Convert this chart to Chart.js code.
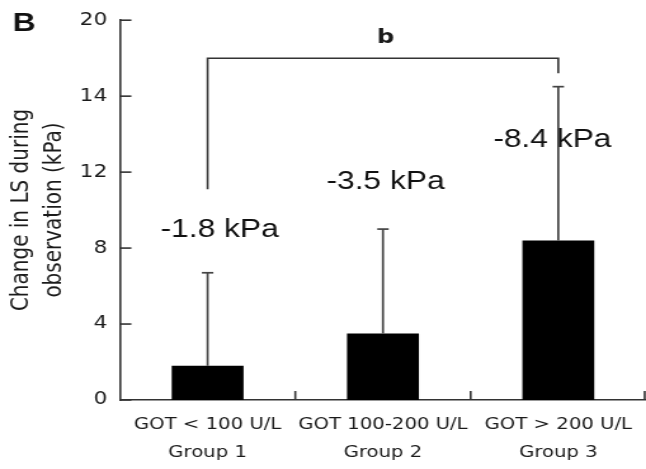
<!DOCTYPE html>
<html>
<head>
<meta charset="utf-8">
<script src="https://cdn.jsdelivr.net/npm/chart.js@4.4.1/dist/chart.umd.min.js"></script>
<style>
  html, body { margin: 0; padding: 0; background: #fff; overflow: hidden; }
  /* the figure is drawn narrow and widened, like the printed panel */
  #wrap { width: 509px; height: 469px; transform: scaleX(1.2692); transform-origin: 0 0; }
</style>
</head>
<body>
<div id="wrap"><canvas id="chart" width="509" height="469"></canvas></div>
<script>
const groups = [
    ['GOT < 100 U/L', 'Group 1'],
    ['GOT 100-200 U/L', 'Group 2'],
    ['GOT > 200 U/L', 'Group 3']
];
const lsChange = [1.8, 3.5, 8.4];     // mean decrease of LS, kPa
const sdUpper = [6.7, 9.0, 16.5];     // top of the SD whisker
const yTickText = ['0', '4', '8', '12', '14', '20'];
const yTitle = ['Change in LS during', 'observation (kPa)'];
const sigMark = 'b';

const INK = '#1a1a1a';

function line(ctx, x1, y1, x2, y2) {
    ctx.beginPath();
    ctx.moveTo(x1, y1);
    ctx.lineTo(x2, y2);
    ctx.stroke();
}

// tick marks, whiskers, bracket and the text around the bars
const extras = {
    id: 'extras',
    afterDraw(chart) {
        const { ctx, chartArea: area, scales: { x, y } } = chart;
        const bars = chart.getDatasetMeta(0).data;
        ctx.save();

        // inward tick marks
        ctx.strokeStyle = '#333';
        ctx.lineWidth = 1.6;
        y.ticks.forEach(t => {
            const py = y.getPixelForValue(t.value);
            line(ctx, area.left, py, area.left + 9, py);
        });
        for (let i = 1; i < bars.length; i++) {
            const px = (bars[i - 1].x + bars[i].x) / 2;
            line(ctx, px, area.bottom, px, area.bottom - 9);
        }
        line(ctx, area.right - 1, area.bottom, area.right - 1, area.bottom - 9);

        // SD whiskers
        ctx.strokeStyle = '#444';
        ctx.lineWidth = 1.7;
        bars.forEach((b, i) => {
            const top = y.getPixelForValue(sdUpper[i]);
            line(ctx, b.x, b.y, b.x, top);
            line(ctx, b.x - 4.5, top, b.x + 4.5, top);
        });

        // significance bracket group 1 vs group 3
        const yb = y.getPixelForValue(18);
        ctx.strokeStyle = '#333';
        ctx.lineWidth = 1.6;
        ctx.beginPath();
        ctx.moveTo(bars[0].x, y.getPixelForValue(11.1));
        ctx.lineTo(bars[0].x, yb);
        ctx.lineTo(bars[2].x, yb);
        ctx.lineTo(bars[2].x, y.getPixelForValue(17.2));
        ctx.stroke();
        ctx.fillStyle = INK;
        ctx.font = 'bold 19px "DejaVu Sans"';
        ctx.textAlign = 'center';
        ctx.textBaseline = 'alphabetic';
        ctx.fillText(sigMark, bars[1].x + 2, yb - 15);

        // value labels
        const shift = [9.5, 2, -4.7];
        const anchor = [8.6, 11.1, 13.3];
        ctx.fillStyle = '#111';
        ctx.font = '25px "Liberation Sans", Arial, sans-serif';
        bars.forEach((b, i) => {
            ctx.fillText('-' + lsChange[i] + ' kPa', b.x + shift[i], y.getPixelForValue(anchor[i]));
        });

        // y axis title, two lines
        ctx.fillStyle = INK;
        ctx.font = '20px "DejaVu Sans"';
        ctx.textBaseline = 'middle';
        [16.5, 42.5].forEach((cx, i) => {
            ctx.save();
            ctx.translate(cx, 210);
            ctx.rotate(-Math.PI / 2);
            ctx.fillText(yTitle[i], 0, 0);
            ctx.restore();
        });

        // panel letter
        ctx.font = 'bold 25px "Liberation Sans", Arial, sans-serif';
        ctx.textAlign = 'left';
        ctx.textBaseline = 'alphabetic';
        ctx.fillStyle = '#111';
        ctx.fillText('B', 10, 31);

        ctx.restore();
    }
};

Chart.defaults.font.family = '"DejaVu Sans", Verdana, sans-serif';

new Chart(document.getElementById('chart'), {
    type: 'bar',
    data: {
        labels: groups,
        datasets: [{
            data: lsChange,
            backgroundColor: '#000',
            borderWidth: 0,
            barPercentage: 0.41,
            categoryPercentage: 1
        }]
    },
    options: {
        responsive: false,
        animation: false,
        layout: { padding: { top: 17, right: 0, bottom: 0, left: 0 } },
        plugins: {
            legend: { display: false },
            tooltip: { enabled: false }
        },
        scales: {
            x: {
                grid: { display: false, drawTicks: false },
                border: { display: true, color: '#333', width: 1.6 },
                ticks: {
                    color: INK,
                    font: { size: 15.5, lineHeight: 1.8 },
                    padding: 11,
                    maxRotation: 0,
                    autoSkip: false
                },
                afterFit: s => { s.height = 69; }
            },
            y: {
                min: 0,
                max: 20,
                grid: { display: false, drawTicks: false },
                border: { display: true, color: '#333', width: 1.6 },
                ticks: {
                    stepSize: 4,
                    color: INK,
                    font: { size: 17 },
                    padding: 10,
                    callback: (v, i) => yTickText[i]
                },
                afterFit: s => { s.width = 94.5; }
            }
        }
    },
    plugins: [extras]
});
</script>
</body>
</html>
